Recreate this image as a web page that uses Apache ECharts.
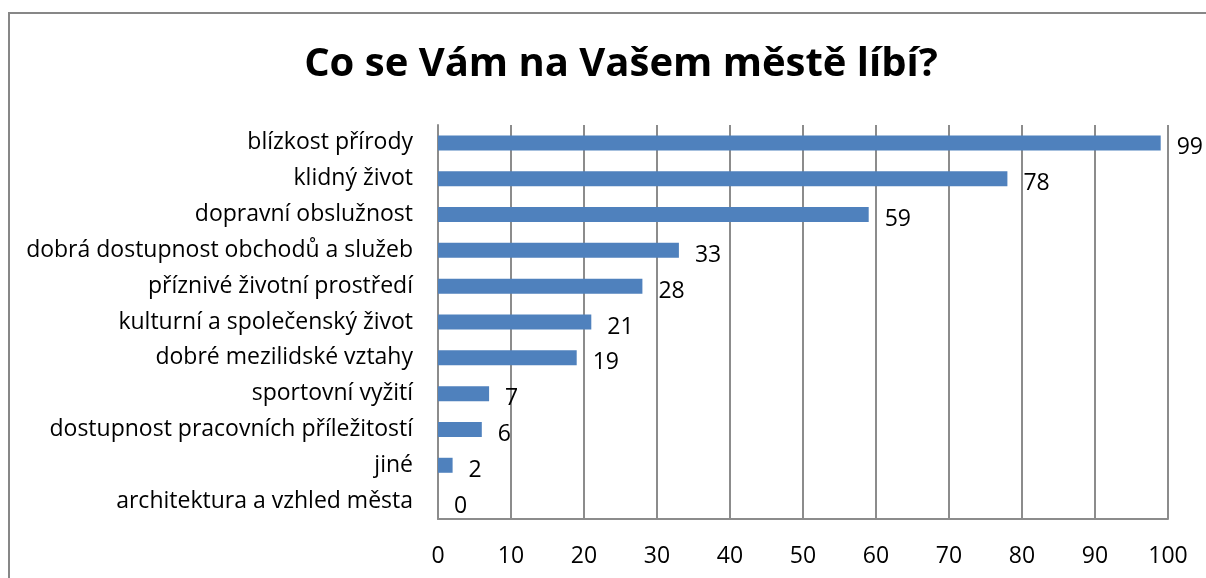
<!DOCTYPE html>
<html>
<head>
<meta charset="utf-8">
<script src="https://cdn.jsdelivr.net/npm/echarts@6/dist/echarts.min.js"></script>
<style>
html, body { margin: 0; padding: 0; background: #fff; }
#frame {
  position: absolute; left: 8px; top: 12px; width: 1300px; height: 700px;
  border-left: 2px solid #878787; border-top: 2px solid #878787;
}
#chart { position: absolute; left: 0; top: 0; width: 1206px; height: 578px; }
</style>
</head>
<body>
<div id="frame"></div>
<div id="chart"></div>
<script>
// kategorie shora dolu
const categories = [
  "blízkost přírody",
  "klidný život",
  "dopravní obslužnost",
  "dobrá dostupnost obchodů a služeb",
  "příznivé životní prostředí",
  "kulturní a společenský život",
  "dobré mezilidské vztahy",
  "sportovní vyžití",
  "dostupnost pracovních příležitostí",
  "jiné",
  "architektura a vzhled města"
];
const values = [99, 78, 59, 33, 28, 21, 19, 7, 6, 2, 0];
const axisMin = 0;
const axisMax = 100;
const axisStep = 10;

const font = "Open Sans";

const myChart = echarts.init(document.getElementById("chart"));
myChart.setOption({
  animation: false,
  title: {
    text: "Co se Vám na Vašem městě líbí?",
    left: 616,
    textAlign: "center",
    top: 40,
    textStyle: {
      fontFamily: font,
      fontWeight: "bold",
      fontSize: 40,
      color: "#000"
    }
  },
  grid: {
    left: 438,
    right: 38,
    top: 125,
    bottom: 59
  },
  xAxis: {
    type: "value",
    min: axisMin,
    max: axisMax,
    interval: axisStep,
    axisLine: { show: true, lineStyle: { color: "#8c8c8c", width: 2 } },
    axisTick: { show: false },
    axisLabel: {
      margin: 26,
      fontFamily: font,
      fontSize: 23,
      color: "#000"
    },
    splitLine: { show: true, lineStyle: { color: "#8c8c8c", width: 2 } }
  },
  yAxis: {
    type: "category",
    inverse: true,
    data: categories,
    axisLine: { show: true, lineStyle: { color: "#8c8c8c", width: 2 } },
    axisTick: { show: false },
    axisLabel: {
      margin: 25,
      fontFamily: font,
      fontSize: 23,
      color: "#000"
    }
  },
  series: [
    {
      type: "bar",
      data: values,
      barWidth: 15,
      itemStyle: { color: "#4f81bd" },
      label: {
        show: true,
        position: "right",
        distance: 16,
        fontFamily: font,
        fontSize: 23,
        color: "#000",
        offset: [0, 5]
      }
    }
  ]
});
</script>
</body>
</html>
